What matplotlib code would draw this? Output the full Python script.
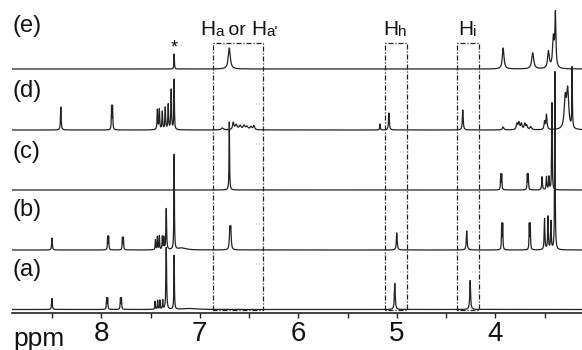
import numpy as np
import matplotlib.pyplot as plt
from matplotlib.ticker import MultipleLocator

plt.rcParams['font.family'] = ['Liberation Sans', 'DejaVu Sans']

# peak lists: position (ppm), height (px above baseline), half width (ppm)
a_ppm = [8.50, 7.945, 7.935, 7.805, 7.795, 7.454, 7.427, 7.404, 7.376, 7.34, 7.26, 7.10, 5.02, 4.255]
a_h = [11, 11, 11, 11, 11, 8, 9, 9, 9, 62, 54, 1, 26, 29]
a_w = [.004, .003, .003, .003, .003, .003, .003, .003, .003, .004, .003, .08, .005, .005]

b_ppm = [8.50, 7.935, 7.925, 7.785, 7.775, 7.45, 7.43, 7.41, 7.38, 7.365, 7.34, 7.26, 7.18,
         6.695, 6.685, 5.00, 4.29, 3.935, 3.925, 3.655, 3.645, 3.50, 3.465, 3.435, 3.395]
b_h = [12, 13, 13, 12, 12, 10, 13, 14, 13, 12, 41, 95, 2,
       20, 20, 17, 19, 25, 25, 25, 25, 31, 33, 28, 178]
b_w = [.004, .003, .003, .003, .003, .003, .003, .003, .003, .003, .004, .003, .05,
       .005, .005, .005, .005, .003, .003, .003, .003, .004, .004, .004, .003]

c_ppm = [6.70, 3.945, 3.935, 3.675, 3.665, 3.525, 3.48, 3.455, 3.425]
c_h = [68, 15, 15, 15, 15, 13, 13, 13, 87]
c_w = [.003, .003, .003, .003, .003, .004, .004, .004, .003]

d_ppm = [8.41, 7.895, 7.885, 7.43, 7.41, 7.38, 7.35, 7.32, 7.29, 7.26,
         6.77, 6.66, 6.63, 6.59, 6.55, 6.52, 6.48, 6.45, 5.17, 5.08, 4.33,
         3.92, 3.78, 3.76, 3.735, 3.70, 3.68, 3.64, 3.50, 3.48, 3.29, 3.265, 3.22]
d_h = [23, 23, 23, 20, 20, 18, 22, 25, 40, 50,
       2, 7, 5, 4, 4, 3, 3, 4, 6, 17, 20,
       3, 6, 7, 6, 6, 4, 3, 8, 15, 30, 38, 60]
d_w = [.004, .003, .003, .004, .004, .004, .004, .004, .004, .003,
       .012, .008, .012, .012, .012, .012, .012, .008, .003, .005, .005,
       .008, .008, .008, .008, .008, .008, .01, .006, .006, .012, .012, .003]

e_ppm = [7.26, 6.70, 3.92, 3.62, 3.46, 3.41, 3.39]
e_h = [15, 21, 21, 16, 17, 30, 52]
e_w = [.003, .012, .01, .012, .01, .01, .006]

spectra = [(a_ppm, a_h, a_w), (b_ppm, b_h, b_w), (c_ppm, c_h, c_w), (d_ppm, d_h, d_w), (e_ppm, e_h, e_w)]
names = ['(a)', '(b)', '(c)', '(d)', '(e)']

# layout (px from the axis line)
offsets = [3.5, 63, 123, 183, 244]
name_y = [43, 103, 161, 222, 287]

grid = np.linspace(3.0, 9.0, 40000)

def lorentz(ppm, h, w):
    y = np.zeros_like(grid)
    for p, hh, ww in zip(ppm, h, w):
        y += hh / (1 + ((grid - p) / ww) ** 2)
    return y

fig = plt.figure(figsize=(5.82, 3.5), dpi=100)
ax = fig.add_axes([12 / 582, 37 / 350, 570 / 582, 313 / 350])
ink = '#222222'

for (ppm, h, w), off in zip(spectra, offsets):
    ax.plot(grid, off + lorentz(ppm, h, w), color=ink, lw=0.9)

for n, y in zip(names, name_y):
    ax.text(0.0, y, n, transform=ax.get_yaxis_transform(), fontsize=17,
            ha='left', va='center', color='#111111')

ax.text(7.26, 265, '*', fontsize=13, ha='center', va='center', color='#111111')

# dash-dot boxes
boxes = [(6.87, 6.36), (5.12, 4.90), (4.39, 4.17)]
for x0, x1 in boxes:
    ax.plot([x0, x0, x1, x1, x0], [3, 270, 270, 3, 3], color=ink, lw=0.9,
            ls=(0, (4, 1.5, 1, 1.5)))

def label(x, parts):
    prev = None
    for s, size in parts:
        if prev is None:
            prev = ax.text(x, 278, s, fontsize=size, ha='left', va='baseline', color='#111111')
        else:
            prev = ax.annotate(s, xy=(1, 0), xycoords=prev, fontsize=size,
                               ha='left', va='bottom', color='#111111')

label(7.00, [('H', 15), ('a', 11), (' or ', 14), ('H', 15), ("a'", 11)])
label(5.14, [('H', 15), ('h', 11)])
label(4.378, [('H', 15), ('i', 11)])

ax.set_xlim(8.906, 3.12)
ax.set_ylim(0, 313)
for s in ['top', 'right', 'left']:
    ax.spines[s].set_visible(False)
ax.spines['bottom'].set_linewidth(1.2)
ax.spines['bottom'].set_color(ink)
ax.set_yticks([])
ax.xaxis.set_major_locator(MultipleLocator(1))
ax.xaxis.set_minor_locator(MultipleLocator(0.5))
ax.tick_params(axis='x', which='both', direction='out', length=3.5, width=1, color=ink)
ax.tick_params(axis='x', which='major', labelsize=20, pad=2, labelcolor='#111111')
fig.text(13 / 582, 4 / 350, 'ppm', fontsize=19, ha='left', va='baseline', color='#111111')

fig.savefig('out.png', dpi=100)
